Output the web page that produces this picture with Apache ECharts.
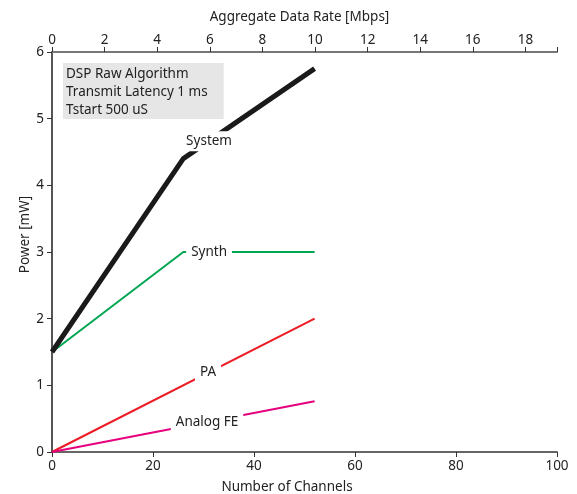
<!DOCTYPE html>
<html>
<head>
<meta charset="utf-8">
<script src="https://cdn.jsdelivr.net/npm/echarts@6/dist/echarts.min.js"></script>
<style>html,body{margin:0;padding:0;background:#fff}#c{width:577px;height:494px}</style>
</head>
<body>
<div id="c"></div>
<script>
// Data
const systemX = [0, 26, 52];
const systemY = [1.5, 4.4, 5.75];
const synthX = [0, 26, 52];
const synthY = [1.5, 3.0, 3.0];
const paX = [0, 52];
const paY = [0, 2.0];
const analogX = [0, 52];
const analogY = [0, 0.76];
const labelNames = ['System', 'Synth', 'PA', 'Analog FE'];
const labelX = [31.1, 31.1, 30.9, 30.7];
const labelY = [4.66, 3.0, 1.2, 0.45];
const infoLines = ['DSP Raw Algorithm', 'Transmit Latency 1 ms', 'Tstart 500 uS'];

const zip = (xs, ys) => xs.map((x, i) => [x, ys[i]]);
const font = 'Noto Sans';
const txt = '#222';

const chart = echarts.init(document.getElementById('c'));
chart.setOption({
  animation: false,
  title: {
    text: infoLines.join('\n'),
    left: 63, top: 63,
    backgroundColor: '#e6e6e6',
    padding: [2, 16, 0, 3],
    textStyle: { fontFamily: font, fontSize: 13.5, fontWeight: 'normal', color: txt, lineHeight: 18 }
  },
  grid: { left: 52, right: 20, top: 52, bottom: 42, outerBoundsMode: 'none', containLabel: false },
  xAxis: [{
    type: 'value', position: 'bottom', min: 0, max: 100, interval: 20,
    name: 'Number of Channels', nameLocation: 'middle', nameGap: 28, nameMoveOverlap: false,
    nameTextStyle: { fontFamily: font, fontSize: 13.5, color: txt, padding: [0, 35, 0, 0] },
    axisLine: { show: true, lineStyle: { color: '#333', width: 1.5 } },
    axisTick: { show: true, inside: false, length: 5, lineStyle: { color: '#333' } },
    axisLabel: { fontFamily: font, fontSize: 13.5, color: txt, margin: 7 },
    splitLine: { show: false }
  }, {
    type: 'value', position: 'top', min: 0, max: 19.2, interval: 2,
    name: 'Aggregate Data Rate [Mbps]', nameLocation: 'middle', nameGap: 28, nameMoveOverlap: false,
    nameTextStyle: { fontFamily: font, fontSize: 13.5, color: txt, padding: [0, 10, 0, 0] },
    axisLine: { show: true, lineStyle: { color: '#777', width: 2 } },
    axisTick: { show: true, length: 5, lineStyle: { color: '#333' } },
    axisLabel: { fontFamily: font, fontSize: 13.5, color: txt, margin: 5,
      formatter: v => (Math.abs(v % 2) < 1e-9 ? String(v) : '') },
    splitLine: { show: false }
  }],
  yAxis: [{
    type: 'value', min: 0, max: 6, interval: 1,
    name: 'Power [mW]', nameLocation: 'middle', nameGap: 20, nameMoveOverlap: false,
    nameTextStyle: { fontFamily: font, fontSize: 13.5, color: txt, padding: [0, 0, 0, 35] },
    axisLine: { show: true, lineStyle: { color: '#555', width: 2 } },
    axisTick: { show: true, length: 5, lineStyle: { color: '#333' } },
    axisLabel: { fontFamily: font, fontSize: 13.5, color: txt, margin: 8 },
    splitLine: { show: false }
  }],
  series: [
    { type: 'line', data: zip(systemX, systemY), symbol: 'none', z: 3,
      lineStyle: { color: '#1a1a1a', width: 5, join: 'round', cap: 'butt' } },
    { type: 'line', data: zip(synthX, synthY), symbol: 'none', z: 2,
      lineStyle: { color: '#00a651', width: 2 } },
    { type: 'line', data: zip(paX, paY), symbol: 'none', z: 2,
      lineStyle: { color: '#ed1c24', width: 2 } },
    { type: 'line', data: zip(analogX, analogY), symbol: 'none', z: 2,
      lineStyle: { color: '#e6007e', width: 2 } }
  ]
});

// Line labels with white backgrounds, positioned through the axes' scales
const graphics = labelNames.map((n, i) => {
  const p = chart.convertToPixel({ xAxisIndex: 0, yAxisIndex: 0 }, [labelX[i], labelY[i]]);
  return {
    type: 'text', x: p[0], y: p[1], z: 100,
    style: { text: n, fontFamily: font, fontSize: 13.5, fill: txt,
      align: 'center', verticalAlign: 'middle',
      backgroundColor: '#fff', padding: [3, 5] }
  };
});
chart.setOption({ graphic: graphics });
</script>
</body>
</html>
